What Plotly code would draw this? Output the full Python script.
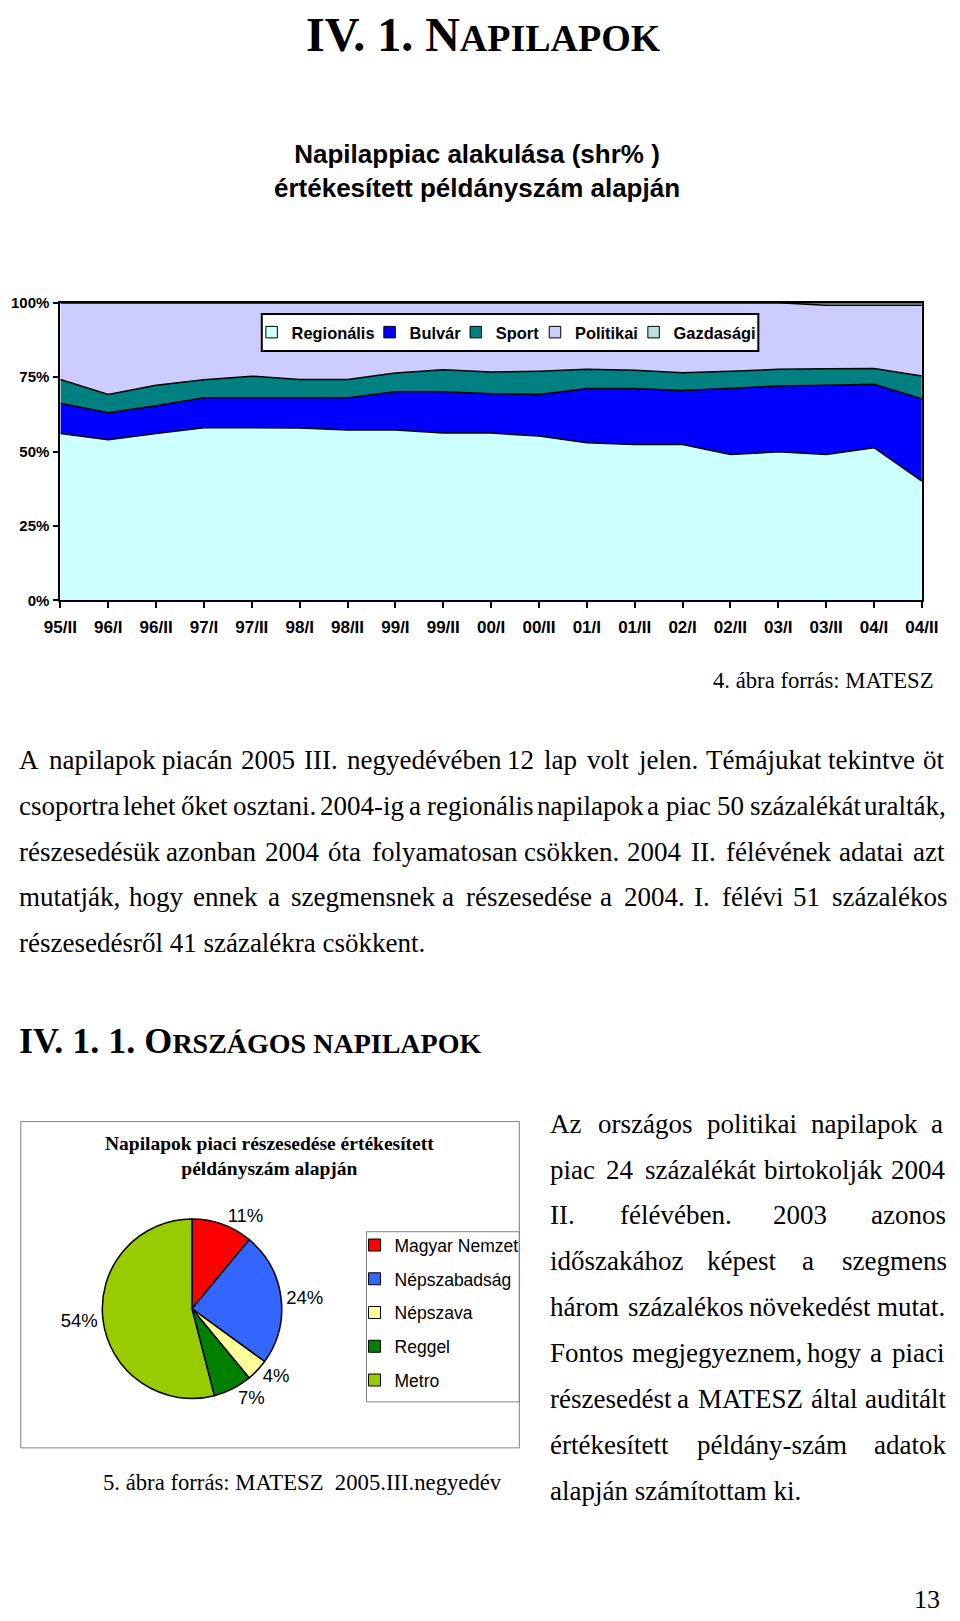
import plotly.graph_objects as go

W, H = 960, 1621

# ---------------- data ----------------
periods = ["95/II", "96/I", "96/II", "97/I", "97/II", "98/I", "98/II", "99/I", "99/II", "00/I",
           "00/II", "01/I", "01/II", "02/I", "02/II", "03/I", "03/II", "04/I", "04/II"]
regionalis = [56.1, 54.0, 56.1, 58.0, 58.0, 57.9, 57.2, 57.2, 56.2, 56.2,
              55.2, 53.0, 52.4, 52.4, 49.0, 49.9, 49.0, 51.3, 40.1]
bulvar = [10.1, 9.0, 9.3, 10.1, 10.1, 10.2, 10.9, 12.9, 13.9, 13.2,
          14.0, 18.2, 18.8, 18.1, 22.2, 22.1, 23.3, 21.3, 27.6]
sport = [8.0, 6.2, 6.9, 6.0, 7.2, 6.1, 6.1, 6.3, 7.4, 7.3,
         7.8, 6.4, 6.1, 6.0, 5.8, 5.6, 5.5, 5.3, 7.7]
politikai = [25.8, 30.8, 27.7, 25.9, 24.7, 25.8, 25.8, 23.6, 22.5, 23.3,
             23.0, 22.4, 22.7, 23.5, 23.0, 22.4, 21.3, 21.2, 23.7]
gazdasagi = [0.0, 0.0, 0.0, 0.0, 0.0, 0.0, 0.0, 0.0, 0.0, 0.0,
             0.0, 0.0, 0.0, 0.0, 0.0, 0.0, 0.9, 0.9, 0.9]
segment_names = ["Regionális", "Bulvár", "Sport", "Politikai", "Gazdasági"]
segment_colors = ["#CCFFFF", "#0000FF", "#008080", "#CCCCFF", "#B8E0DC"]
y_ticks = [0, 25, 50, 75, 100]
y_tick_labels = ["0%", "25%", "50%", "75%", "100%"]

lapok = ["Magyar Nemzet", "Népszabadság", "Népszava", "Reggel", "Metro"]
reszesedes = [11, 24, 4, 7, 54]
lap_colors = ["#FF0000", "#3366FF", "#FFFF99", "#008000", "#99CC00"]

para_lines = [
    "A napilapok piacán 2005 III. negyedévében 12 lap volt jelen. Témájukat tekintve öt",
    "csoportra lehet őket osztani. 2004-ig a regionális napilapok a piac 50 százalékát uralták,",
    "részesedésük azonban 2004 óta folyamatosan csökken. 2004 II. félévének adatai azt",
    "mutatják, hogy ennek a szegmensnek a részesedése a 2004. I. félévi 51 százalékos",
    "részesedésről 41 százalékra csökkent.",
]
side_lines = [
    "Az országos politikai napilapok a",
    "piac 24 százalékát birtokolják 2004",
    "II. félévében. 2003 azonos",
    "időszakához képest a szegmens",
    "három százalékos növekedést mutat.",
    "Fontos megjegyeznem, hogy a piaci",
    "részesedést a MATESZ által auditált",
    "értékesített példány-szám adatok",
    "alapján számítottam ki.",
]

SERIF = "Liberation Serif"
SANS = "Liberation Sans"

# page-pixel -> figure-pixel calibration (the page is shown slightly inset)
OX, SX = 15.5, 0.9674
OY, SY = 8.3, 0.9887


def sx(R):
    return (R - OX) / SX


def sy(R):
    return (R - OY) / SY


def fxp(x):          # figure px -> paper
    return x / W


def fyp(y):
    return 1 - y / H


# Times / Liberation Serif advance widths (1/1000 em)
TW = {' ': 250, 'a': 444, 'b': 500, 'c': 444, 'd': 500, 'e': 444, 'f': 333, 'g': 500, 'h': 500,
      'i': 278, 'j': 278, 'k': 500, 'l': 278, 'm': 778, 'n': 500, 'o': 500, 'p': 500, 'q': 500,
      'r': 333, 's': 389, 't': 278, 'u': 500, 'v': 500, 'w': 722, 'x': 500, 'y': 500, 'z': 444,
      'A': 722, 'B': 667, 'C': 667, 'D': 722, 'E': 611, 'F': 556, 'G': 722, 'H': 722, 'I': 333,
      'J': 389, 'K': 722, 'L': 611, 'M': 889, 'N': 722, 'O': 722, 'P': 556, 'Q': 722, 'R': 667,
      'S': 556, 'T': 611, 'U': 722, 'V': 722, 'W': 944, 'X': 722, 'Y': 722, 'Z': 611,
      '.': 250, ',': 250, '-': 333, ':': 278, '(': 333, ')': 333, '%': 833,
      'á': 444, 'é': 444, 'í': 278, 'ó': 500, 'ö': 500, 'ő': 500, 'ú': 500, 'ü': 500, 'ű': 500,
      'Á': 722, 'É': 611}


def tw(s, size):
    return sum(TW.get(c, 500) for c in s) * size / 1000.0


annotations = []


def add_text(text, x, y, size, family=SERIF, xanchor="left", weight="normal", color="black"):
    """x, y in figure pixels."""
    annotations.append(dict(text=text, x=fxp(x), y=fyp(y), xref="paper", yref="paper",
                            xanchor=xanchor, yanchor="middle", showarrow=False, borderpad=0,
                            font=dict(family=family, size=size, color=color, weight=weight)))


def justified(lines, left, right, ys, size):
    for k, line in enumerate(lines):
        y = ys[k]
        words = line.split(" ")
        if k == len(lines) - 1 or len(words) == 1:
            add_text(line, left, y, size)
            continue
        widths = [tw(w, size) for w in words]
        gap = (right - left - sum(widths)) / (len(words) - 1)
        x = left
        for w, wd in zip(words, widths):
            add_text(w, x, y, size)
            x += wd + gap


# ---------------- figure ----------------
fig = go.Figure()

series = [regionalis, bulvar, sport, politikai, gazdasagi]
for i, (name, vals, col) in enumerate(zip(segment_names, series, segment_colors)):
    fig.add_trace(go.Scatter(
        x=periods, y=vals, name=name, mode="lines", stackgroup="one",
        groupnorm="percent" if i == 0 else None,
        line=dict(color="black", width=1.5), fillcolor=col,
        showlegend=False, hoverinfo="skip"))

# area-chart legend: one entry per legend so the entries sit tightly like the original
area_legends = ["legend", "legend3", "legend4", "legend5", "legend6"]
area_legend_text_x = [291.5, 409.8, 496.3, 575.7, 674.6]   # page px where each label starts
for name, col, lg in zip(segment_names, segment_colors, area_legends):
    fig.add_trace(go.Scatter(
        x=[None], y=[None], name=name, mode="markers",
        marker=dict(symbol="square", size=11.5, color=col, line=dict(color="black", width=1)),
        legend=lg, showlegend=True))

# pie chart
pcx, pcy = sx(191), sy(1307)
rx, ry = 93, 95
fig.add_trace(go.Pie(
    labels=lapok, values=reszesedes, sort=False, direction="clockwise", rotation=0,
    marker=dict(colors=lap_colors, line=dict(color="black", width=1.5)),
    texttemplate="%{value}%", textposition="outside",
    outsidetextfont=dict(family=SANS, size=18.5, color="black"),
    domain=dict(x=[fxp(pcx - rx), fxp(pcx + rx)], y=[fyp(pcy + ry), fyp(pcy - ry)]),
    showlegend=False, hoverinfo="skip"))

for k, (name, col) in enumerate(zip(lapok, lap_colors)):
    fig.add_trace(go.Scatter(
        x=[None], y=[None], name=name, mode="markers", legendgroup="g%d" % k,
        marker=dict(symbol="square", size=12, color=col, line=dict(color="black", width=1)),
        legend="legend2", showlegend=True))

# ---------------- text ----------------
add_text("IV. 1. N<span style='font-size:38px'>APILAPOK</span>", sx(483.5), 26, 48,
         xanchor="center", weight="bold")
add_text("Napilappiac alakulása (shr% )<br>értékesített példányszám alapján", 477, sy(170.5), 26,
         family=SANS, xanchor="center", weight="bold")
add_text("4. ábra forrás: MATESZ", sx(936), sy(679), 22.7, xanchor="right")
justified(para_lines, 1, 959, [sy(759 + 45.6 * k) for k in range(len(para_lines))], 27)
add_text("IV. 1. 1. O<span style='font-size:28px'>RSZÁGOS NAPILAPOK</span>", 1, sy(1039), 36,
         weight="bold")
add_text("Napilapok piaci részesedése értékesített<br>példányszám alapján", sx(269), sy(1154.2),
         19.5, xanchor="center", weight="bold")
add_text("5. ábra forrás: MATESZ\u00a0\u00a02005.III.negyedév", sx(101), sy(1481), 22.7)
justified(side_lines, 552, 959, [sy(1122 + 45.9 * k) for k in range(len(side_lines))], 27)
add_text("13", 958, 1607, 26, xanchor="right")

shapes = [
    dict(type="rect", xref="paper", yref="paper", x0=fxp(sx(19.3)), x1=fxp(sx(519.3)),
         y0=fyp(sy(1446)), y1=fyp(sy(1120)), line=dict(color="#808080", width=1)),
    dict(type="rect", xref="paper", yref="paper", x0=fxp(sx(366)), x1=fxp(sx(519.3)),
         y0=fyp(sy(1400)), y1=fyp(sy(1230)), line=dict(color="#808080", width=1)),
    # frame of the area-chart legend
    dict(type="rect", xref="paper", yref="paper", layer="above",
         x0=fxp(sx(261)), x1=fxp(sx(759)), y0=fyp(sy(350)), y1=fyp(sy(313)),
         line=dict(color="black", width=2), fillcolor="white"),
]

layout_legends = {}
for lg, tx in zip(area_legends, area_legend_text_x):
    layout_legends[lg] = dict(
        orientation="h", x=fxp(sx(tx) - 31.7), xanchor="left",
        y=fyp(sy(331.5)), yanchor="middle",
        bgcolor="rgba(0,0,0,0)", borderwidth=0, indentation=-10,
        font=dict(family=SANS, size=16.4, color="black", weight="bold"),
        itemclick=False, itemdoubleclick=False)

layout_legends["legend2"] = dict(
    orientation="v", x=fxp(392 - 31.7), xanchor="left", y=fyp(sy(1247) - 21.8), yanchor="top",
    traceorder="grouped",
    bgcolor="rgba(0,0,0,0)", borderwidth=0, indentation=-10, tracegroupgap=8,
    font=dict(family=SANS, size=17.5, color="black"),
    itemclick=False, itemdoubleclick=False)

fig.update_layout(
    width=W, height=H, margin=dict(l=0, r=0, t=0, b=0),
    paper_bgcolor="white", plot_bgcolor="white",
    showlegend=True,
    annotations=annotations, shapes=shapes,
    xaxis=dict(type="category", range=[0, 18], domain=[fxp(sx(59)), fxp(sx(923))],
               showline=True, mirror=True, linecolor="black", linewidth=2,
               ticks="outside", ticklen=6, tickwidth=1.5, tickcolor="black",
               tickfont=dict(family=SANS, size=17, color="black", weight="bold"),
               ticklabelstandoff=4, showgrid=False, fixedrange=True),
    yaxis=dict(range=[0, 100], domain=[fyp(sy(599.3)), fyp(sy(301.7))],
               tickmode="array", tickvals=y_ticks, ticktext=y_tick_labels,
               showline=True, mirror=True, linecolor="black", linewidth=2,
               ticks="outside", ticklen=5, tickwidth=1.5, tickcolor="black",
               tickfont=dict(family=SANS, size=15, color="black", weight="bold"),
               ticklabelstandoff=1, showgrid=False, zeroline=False, fixedrange=True),
    **layout_legends,
)

fig.write_html(
    "out.html",
    config={"displayModeBar": False},
    post_script="document.body.style.margin='0';document.body.style.padding='0';"
                "document.documentElement.style.overflow='hidden';",
)
